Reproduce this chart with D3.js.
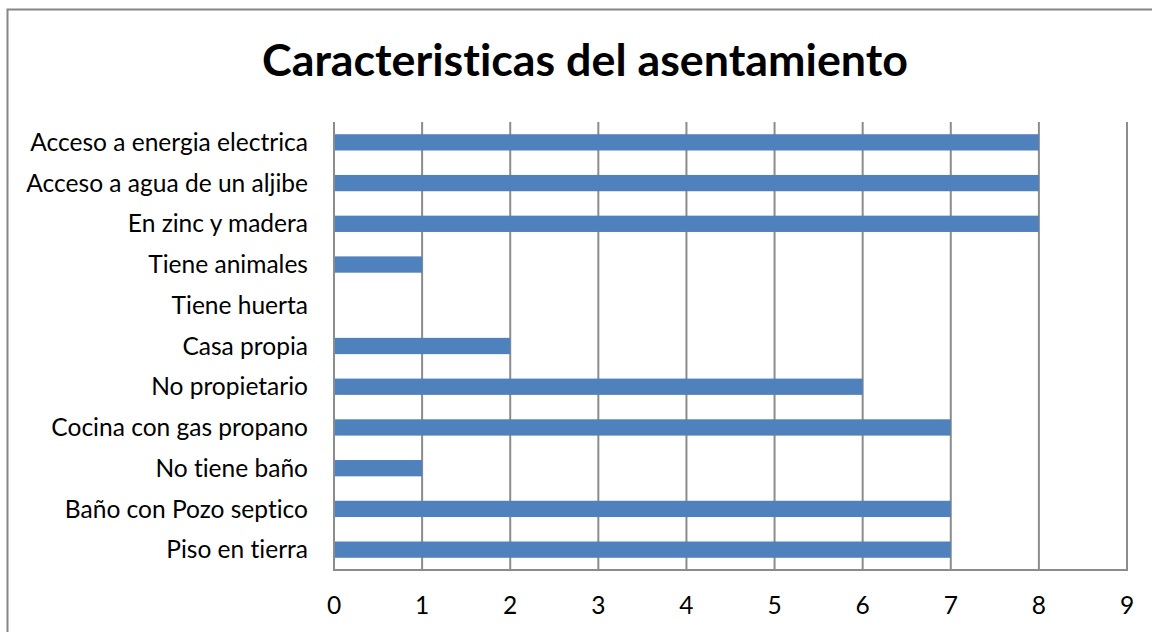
<!DOCTYPE html>
<html><head><meta charset="utf-8">
<script src="https://cdn.jsdelivr.net/npm/d3@7"></script>
<style>body{margin:0;background:#fff}svg{display:block}text{font-variant-ligatures:none;font-feature-settings:"liga" 0,"clig" 0}</style>
</head><body>
<svg id="c" width="1152" height="632"></svg>
<script>
const categories = ["Acceso a energia electrica","Acceso a agua de un aljibe","En zinc y madera","Tiene animales","Tiene huerta","Casa propia","No propietario","Cocina con gas propano","No tiene baño","Baño con Pozo septico","Piso en tierra"];
const values = [8,8,8,1,0,2,6,7,1,7,7];
const xTicks = [0,1,2,3,4,5,6,7,8,9];
const title = "Caracteristicas del asentamiento";

const svg = d3.select("#c");
const font = "Lato, 'Open Sans', sans-serif";
svg.append("rect").attr("x",7.5).attr("y",9.5).attr("width",1160).attr("height",640)
  .attr("fill","#fff").attr("stroke","#868686").attr("stroke-width",2);

const m = {l:334, r:1127, t:122, b:570};
const x = d3.scaleLinear().domain([0,9]).range([m.l,m.r]);
const y = d3.scaleBand().domain(categories).range([m.t,m.b]).paddingInner(0.6).paddingOuter(0.3);

// gridlines
svg.append("g").selectAll("line").data(xTicks).join("line")
  .attr("x1",d=>x(d)).attr("x2",d=>x(d)).attr("y1",m.t).attr("y2",m.b)
  .attr("stroke","#8c8c8c").attr("stroke-width",2);
// bottom axis line
svg.append("line").attr("x1",m.l-1).attr("x2",m.r+1).attr("y1",m.b).attr("y2",m.b)
  .attr("stroke","#8c8c8c").attr("stroke-width",2);

svg.append("g").selectAll("rect").data(values).join("rect")
  .attr("x",x(0)+1).attr("y",(d,i)=>y(categories[i]))
  .attr("width",d=>Math.max(0,x(d)-x(0)-1)).attr("height",y.bandwidth())
  .attr("fill","#4f81bd");

// fit font sizes
function fit(sel, target){
  sel.attr("font-size",20);
  const w = sel.node().getComputedTextLength();
  sel.attr("font-size", 20*target/w);
}
const cats = svg.append("g").selectAll("text").data(categories).join("text")
  .attr("x",308).attr("y",d=>y(d)+y.bandwidth()/2).attr("dy","0.35em")
  .attr("text-anchor","end").attr("font-family",font).attr("fill","#000").text(d=>d);
const tmp = cats.filter((d,i)=>i===0);
fit(tmp,278);
const fs = tmp.attr("font-size");
cats.attr("font-size",fs);

svg.append("g").selectAll("text").data(xTicks).join("text")
  .attr("x",d=>x(d)).attr("y",605).attr("dy","0.35em").attr("text-anchor","middle")
  .attr("font-family",font).attr("font-size",fs).attr("fill","#000").text(d=>d);

const t = svg.append("text").attr("x",585).attr("y",76).attr("text-anchor","middle")
  .attr("font-family",font).attr("font-weight","bold").attr("fill","#000").text(title);
fit(t,646);
</script>
</body></html>
